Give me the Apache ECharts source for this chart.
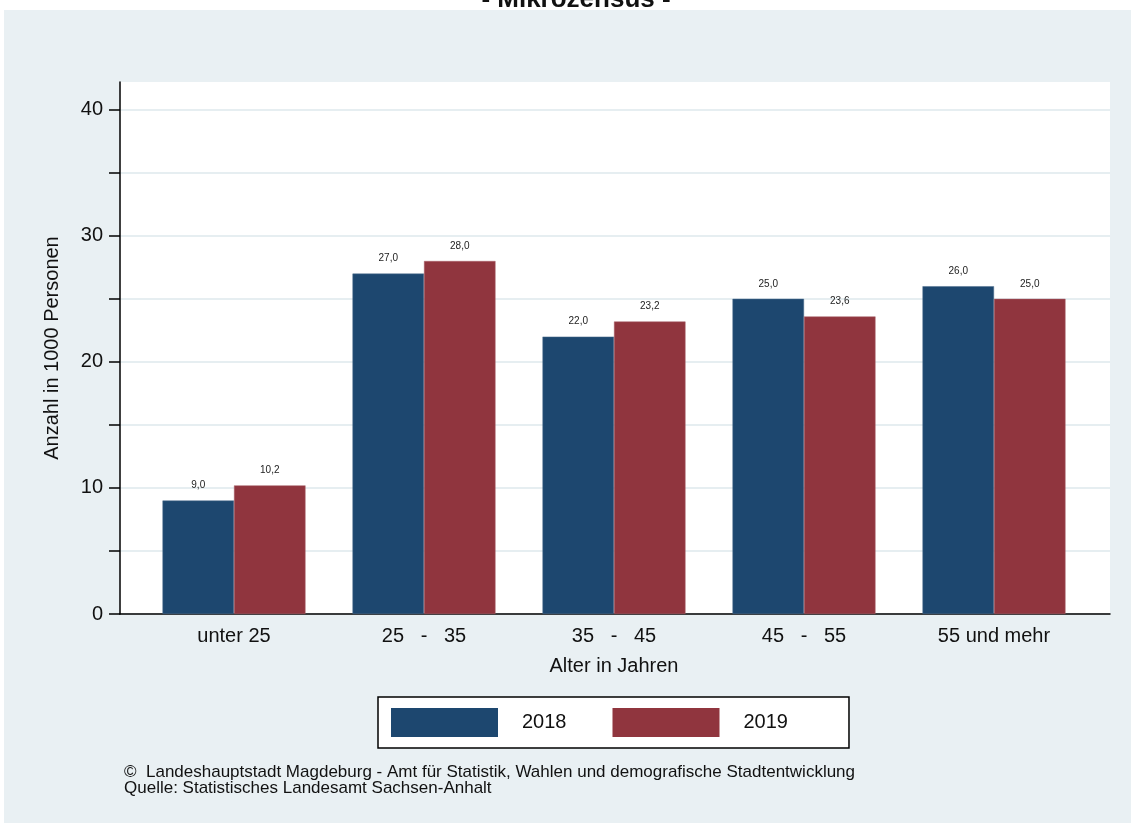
<!DOCTYPE html>
<html>
<head>
<meta charset="utf-8">
<script src="https://cdn.jsdelivr.net/npm/echarts@6/dist/echarts.min.js"></script>
<style>html,body{margin:0;padding:0;background:#fff}#c{width:1131px;height:823px}</style>
</head>
<body>
<div id="c"></div>
<script>
const categories = ['unter 25', '25   -   35', '35   -   45', '45   -   55', '55 und mehr'];
const values2018 = [9.0, 27.0, 22.0, 25.0, 26.0];
const values2019 = [10.2, 28.0, 23.2, 23.6, 25.0];
const seriesNames = ['2018', '2019'];
const yTicks = [0, 10, 20, 30, 40];
const yMinorTicks = [0, 5, 10, 15, 20, 25, 30, 35, 40];

const FONT = '"Liberation Sans", Arial, Helvetica, sans-serif';
const chart = echarts.init(document.getElementById('c'), null, {renderer: 'canvas'});

const fmt = p => p.value.toFixed(1).replace('.', ',');
const labelCfg = {show: true, position: 'top', distance: 10, fontSize: 10, color: '#222', fontFamily: FONT, formatter: fmt};

chart.setOption({
  animation: false,
  backgroundColor: '#ffffff',
  graphic: [
    {type: 'rect', z: -10, shape: {x: 4, y: 10, width: 1127, height: 813}, style: {fill: '#e9f0f3'}},
    {type: 'text', z: -20, x: 576, y: -13, style: {text: '- Mikrozensus -', font: 'bold 26px ' + FONT, fill: '#111', textAlign: 'center', textVerticalAlign: 'top'}},
    {type: 'text', z: 10, x: 124, y: 764, style: {text: '\u00A9  Landeshauptstadt Magdeburg - Amt f\u00FCr Statistik, Wahlen und demografische Stadtentwicklung\nQuelle: Statistisches Landesamt Sachsen-Anhalt', font: '17px ' + FONT, lineHeight: 16, fill: '#111'}}
  ],
  grid: [
    {left: 120, top: 82, width: 990, height: 532, show: true, backgroundColor: '#ffffff', borderWidth: 0},
    {left: 139, top: 82, width: 950, height: 532, show: false}
  ],
  xAxis: [
    {gridIndex: 0, type: 'value', min: 0, max: 1, axisLine: {show: true, lineStyle: {color: '#000', width: 1.5}}, axisTick: {show: false}, axisLabel: {show: false}, splitLine: {show: false}},
    {gridIndex: 1, type: 'category', data: categories, axisLine: {show: false}, axisTick: {show: false},
     axisLabel: {margin: 12, fontSize: 20, color: '#111', fontFamily: FONT},
     name: 'Alter in Jahren', nameLocation: 'middle', nameGap: 42, nameTextStyle: {fontSize: 20, color: '#111', fontFamily: FONT}}
  ],
  yAxis: [
    {gridIndex: 0, type: 'value', min: 0, max: 42.2, interval: 5,
     axisLine: {show: true, lineStyle: {color: '#000', width: 1.5}},
     axisTick: {show: true, length: 11, customValues: yMinorTicks, lineStyle: {color: '#000', width: 1.5}},
     axisLabel: {fontSize: 20, color: '#111', fontFamily: FONT, margin: 17, customValues: yTicks},
     splitLine: {show: true, lineStyle: {color: '#e6eef1', width: 2}},
     name: 'Anzahl in 1000 Personen', nameLocation: 'middle', nameGap: 58, nameRotate: 90,
     nameTextStyle: {fontSize: 20, color: '#111', fontFamily: FONT}},
    {gridIndex: 1, type: 'value', min: 0, max: 42.2, show: false}
  ],
  legend: {
    data: seriesNames, left: 378, top: 697, orient: 'horizontal',
    padding: [11, 61, 11, 13], itemWidth: 107, itemHeight: 29, itemGap: 46,
    borderColor: '#000', borderWidth: 1.5, backgroundColor: '#fff',
    itemStyle: {borderWidth: 0},
    textStyle: {fontSize: 20, color: '#111', fontFamily: FONT, padding: [0, 0, 0, 19]},
    icon: 'rect'
  },
  series: [
    {name: seriesNames[0], type: 'bar', xAxisIndex: 1, yAxisIndex: 1, data: values2018, barWidth: 71.5, barGap: '0%',
     itemStyle: {color: '#1d476f', borderColor: '#4d6d8d', borderWidth: 0.5}, label: labelCfg},
    {name: seriesNames[1], type: 'bar', xAxisIndex: 1, yAxisIndex: 1, data: values2019, barWidth: 71.5, barGap: '0%',
     itemStyle: {color: '#90353e', borderColor: '#a8626a', borderWidth: 0.5}, label: labelCfg}
  ]
});
</script>
</body>
</html>
